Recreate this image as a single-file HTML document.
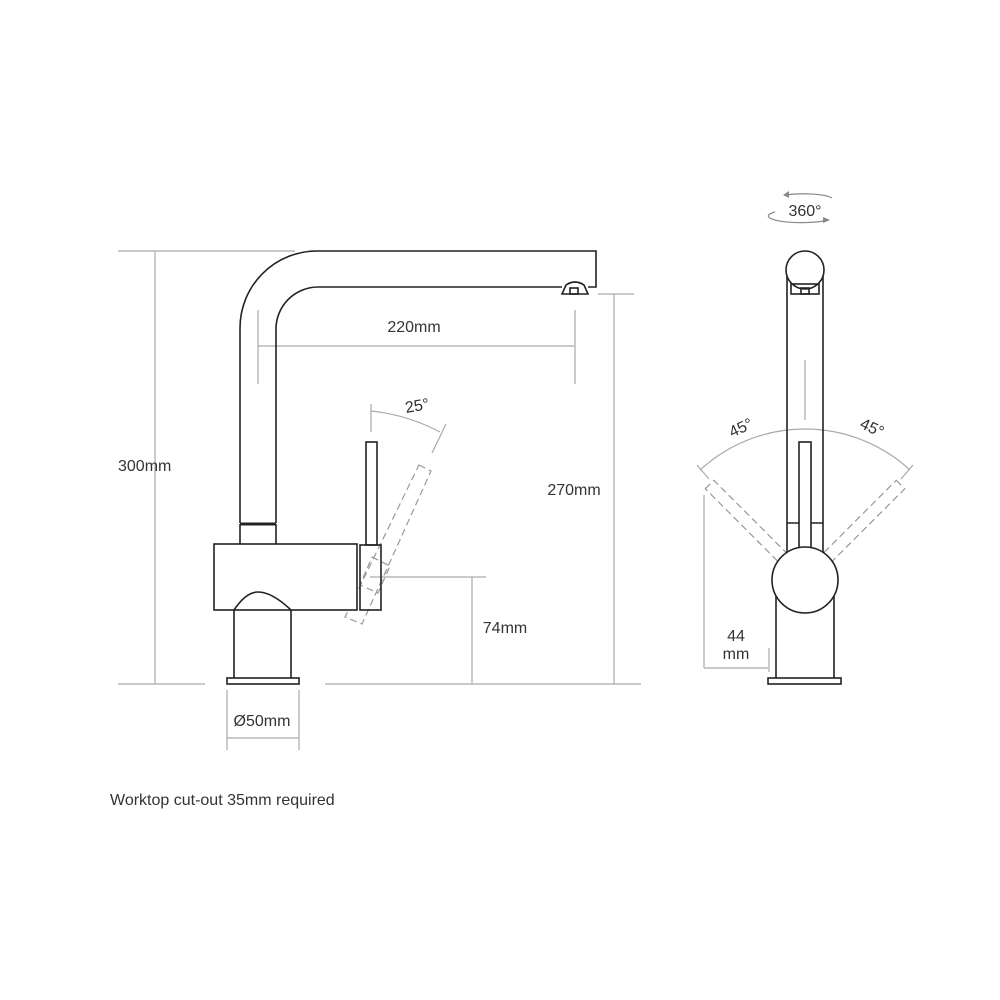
<!DOCTYPE html>
<html><head><meta charset="utf-8"><style>
html,body{margin:0;padding:0;background:#fff}
svg{display:block}
text{font-family:"Liberation Sans",sans-serif;fill:#333;font-size:16px}
</style></head><body>
<svg width="1000" height="1000" viewBox="0 0 1000 1000" xmlns="http://www.w3.org/2000/svg">
<g fill="none" stroke="#aaa" stroke-width="1.2">
<line x1="118" y1="251" x2="295" y2="251"/>
<line x1="155" y1="251" x2="155" y2="684"/>
<line x1="118" y1="684" x2="205" y2="684"/>
<line x1="325" y1="684" x2="641" y2="684"/>
<line x1="258" y1="346" x2="575" y2="346"/>
<line x1="258" y1="310" x2="258" y2="384"/>
<line x1="575" y1="310" x2="575" y2="384"/>
<line x1="598" y1="294" x2="634" y2="294"/>
<line x1="614" y1="294" x2="614" y2="684"/>
<line x1="370" y1="577" x2="486" y2="577"/>
<line x1="472" y1="577" x2="472" y2="684"/>
<line x1="227" y1="690" x2="227" y2="750"/>
<line x1="299" y1="690" x2="299" y2="750"/>
<line x1="227" y1="738" x2="299" y2="738"/>
<line x1="371" y1="404" x2="371" y2="432"/>
<path d="M371 411 A 190 190 0 0 1 440 432"/>
<line x1="446" y1="424" x2="432" y2="453"/>
<line x1="805" y1="360" x2="805" y2="420"/>
<path d="M700 470 A 155 155 0 0 1 910 470"/>
<line x1="697" y1="465" x2="709" y2="479"/>
<line x1="913" y1="465" x2="901" y2="479"/>
<line x1="704" y1="495" x2="704" y2="668"/>
<line x1="704" y1="668" x2="768" y2="668"/>
<line x1="769" y1="648" x2="769" y2="672"/>
<path d="M832 198 A 30 6 0 0 0 785 195" stroke="#888"/>
<path d="M775 212 A 30 6 0 0 0 828 220" stroke="#888"/>
</g>
<g fill="#888"><path d="M783 195 l6 -4 l0 7z"/><path d="M830 220 l-7 -3 l0 6z"/></g>
<g fill="none" stroke="#999" stroke-width="1.2" stroke-dasharray="7,4">
<polygon points="419,465 431,471 362,624 345,617"/>
<polygon points="372,557 390,566 378,593 360,585"/>
<g transform="rotate(-45 805 580)"><rect x="799" y="445" width="12" height="105"/></g>
<g transform="rotate(45 805 580)"><rect x="799" y="445" width="12" height="105"/></g>
</g>
<g fill="none" stroke="#222" stroke-width="1.6">
<path d="M240 523 L240 328 A 77 77 0 0 1 317 251 L596 251 L596 287 L588 287"/>
<path d="M276 523 L276 329 A 42 42 0 0 1 318 287 L562 287"/>
<path d="M562 294 L566 285 Q575 279 584 285 L588 294 Z"/>
<rect x="570" y="288" width="8" height="6"/>
<line x1="240" y1="524" x2="276" y2="524" stroke-width="3"/>
<path d="M240 524 L240 544 Q258 556 276 544 L276 524"/>
<rect x="214" y="544" width="143" height="66" fill="#fff"/>
<path d="M234 678 L234 610 Q246 592 258 592 Q272 592 291 610 L291 678"/>
<rect x="227" y="678" width="72" height="6"/>
<rect x="366" y="442" width="11" height="103"/>
<rect x="360" y="545" width="21" height="65"/>
<line x1="787" y1="272" x2="787" y2="560"/>
<line x1="823" y1="272" x2="823" y2="560"/>
<circle cx="805" cy="270" r="19" fill="#fff"/>
<rect x="791" y="284" width="28" height="10"/>
<rect x="801" y="288" width="8" height="6"/>
<line x1="787" y1="523" x2="823" y2="523"/>
<rect x="799" y="442" width="12" height="110" fill="#fff"/>
<path d="M776 595 L776 678 M834 678 L834 595"/>
<circle cx="805" cy="580" r="33" fill="#fff"/>
<rect x="768" y="678" width="73" height="6"/>
</g>
<text x="118" y="471">300mm</text>
<text x="414" y="332" text-anchor="middle">220mm</text>
<text x="574" y="495" text-anchor="middle">270mm</text>
<text x="505" y="633" text-anchor="middle">74mm</text>
<text x="262" y="726" text-anchor="middle">Ø50mm</text>
<text x="110" y="805" font-size="15">Worktop cut-out 35mm required</text>
<text x="417" y="411" text-anchor="middle" transform="rotate(-10 417 405)">25°</text>
<text x="805" y="216" text-anchor="middle">360°</text>
<text x="741" y="433" text-anchor="middle" transform="rotate(-25 741 428)">45°</text>
<text x="872" y="433" text-anchor="middle" transform="rotate(25 872 428)">45°</text>
<text x="736" y="641" text-anchor="middle">44</text>
<text x="736" y="659" text-anchor="middle">mm</text>
</svg>
</body></html>
